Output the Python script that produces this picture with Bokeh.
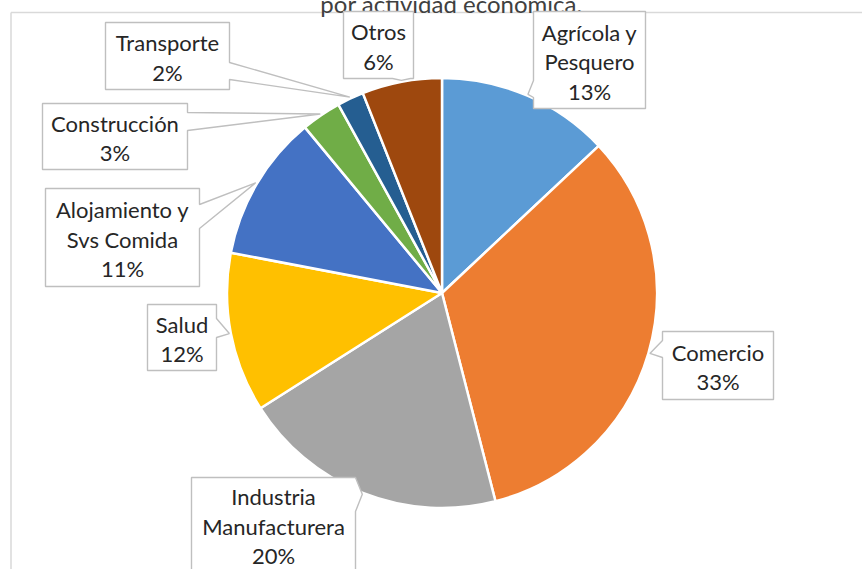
import math
from bokeh.plotting import figure
from bokeh.models import Range1d, InlineStyleSheet
from bokeh.core.properties import value
from bokeh.embed import file_html
from bokeh.resources import INLINE

# ---------------- data ----------------
categories = ["Agrícola y Pesquero", "Comercio", "Industria Manufacturera", "Salud",
              "Alojamiento y Svs Comida", "Construcción", "Transporte", "Otros"]
label_lines = [["Agrícola y", "Pesquero"], ["Comercio"], ["Industria", "Manufacturera"], ["Salud"],
               ["Alojamiento y", "Svs Comida"], ["Construcción"], ["Transporte"], ["Otros"]]
shares = [13, 33, 20, 12, 11, 3, 2, 6]
title_text = "por actividad económica."

# ---------------- style / layout ----------------
colors = ["#5B9BD5", "#ED7D31", "#A5A5A5", "#FFC000", "#4472C4", "#70AD47", "#255E91", "#9E480E"]
W, H = 862, 569
CX, CY, R = 441.5, 292.5, 215.0          # pie centre / radius (px, y down)
FONT = "Lato"
FS = 22
LINE_PITCH = 29.5
# callout boxes: (x0, y0, x1, y1), pointer side, pointer base (px, y down)
boxes = [(533, 11, 645, 108), (662, 331, 773, 399), (191, 477, 355, 575), (147, 304, 216, 370),
         (45, 188, 199, 286), (42, 103, 187, 169), (105, 22, 229, 89), (343, 11, 413, 78)]
sides = ["left", "left", "right", "right", "right", "right", "right", "bottom"]
bases = [(80, 97), (340, 357), (477, 511), (318, 337), (204, 228), (112, 130), (62, 79), (392, 410)]
text_shift = [1.5, 1.5, -0.5, 1.5, 1.5, 1.5, 1.5, 1.5]


def Y(py):
    return H - py


p = figure(width=W, height=H, x_range=Range1d(0, W), y_range=Range1d(0, H),
           x_axis_type=None, y_axis_type=None, toolbar_location=None,
           output_backend="svg", min_border=0, outline_line_color=None,
           background_fill_color="white", border_fill_color="white")
p.grid.visible = False
p.stylesheets = [InlineStyleSheet(css=":host { position: absolute !important; left: 0px !important; top: 0px !important; margin: 0 !important; }")]

# chart area border (partially visible)
p.segment(x0=[10.5, 10.5], y0=[Y(12), Y(12)], x1=[10.5, W], y1=[0, Y(12)],
          line_color="#D9D9D9", line_width=1.5)

# title (clipped at top, as in the reference)
p.text(x=[451], y=[Y(2.5)], text=[title_text], text_align="center",
       text_baseline="alphabetic", text_font=value(FONT), text_font_size="24px",
       text_color="#404040")

# pie
total = float(sum(shares))
cum = 0.0
starts, ends, mids = [], [], []
for s in shares:
    a0 = cum / total * 2 * math.pi
    cum += s
    a1 = cum / total * 2 * math.pi
    starts.append(math.pi / 2 - a0)
    ends.append(math.pi / 2 - a1)
    mids.append((a0 + a1) / 2)

p.wedge(x=[CX] * len(shares), y=[Y(CY)] * len(shares), radius=R,
        start_angle=starts, end_angle=ends, direction="clock",
        fill_color=colors, line_color="white", line_width=2.5)

# callouts
xs, ys = [], []
tip_r = R + 1.5
for (x0, y0, x1, y1), side, (b0, b1), m in zip(boxes, sides, bases, mids):
    tx = CX + tip_r * math.sin(m)
    ty = CY - tip_r * math.cos(m)
    pts = [(x0, y0)]
    if side == "top":
        pts += [(b0, y0), (tx, ty), (b1, y0)]
    pts.append((x1, y0))
    if side == "right":
        pts += [(x1, b0), (tx, ty), (x1, b1)]
    pts.append((x1, y1))
    if side == "bottom":
        pts += [(b1, y1), (tx, ty), (b0, y1)]
    pts.append((x0, y1))
    if side == "left":
        pts += [(x0, b1), (tx, ty), (x0, b0)]
    xs.append([q[0] for q in pts])
    ys.append([Y(q[1]) for q in pts])

p.patches(xs=xs, ys=ys, fill_color="white", line_color="#BFBFBF", line_width=1.4)

tx_, ty_, tt_ = [], [], []
for (x0, y0, x1, y1), lines, s, sh in zip(boxes, label_lines, shares, text_shift):
    all_lines = lines + [f"{s}%"]
    n = len(all_lines)
    cx = (x0 + x1) / 2
    cy = (y0 + y1) / 2 + sh
    for i, t in enumerate(all_lines):
        tx_.append(cx)
        ty_.append(Y(cy + (i - (n - 1) / 2) * LINE_PITCH))
        tt_.append(t)

p.text(x=tx_, y=ty_, text=tt_, text_align="center", text_baseline="middle",
       text_font=value(FONT), text_font_size=f"{FS}px", text_color="#262626")

open("out.html", "w").write(file_html(p, INLINE))
